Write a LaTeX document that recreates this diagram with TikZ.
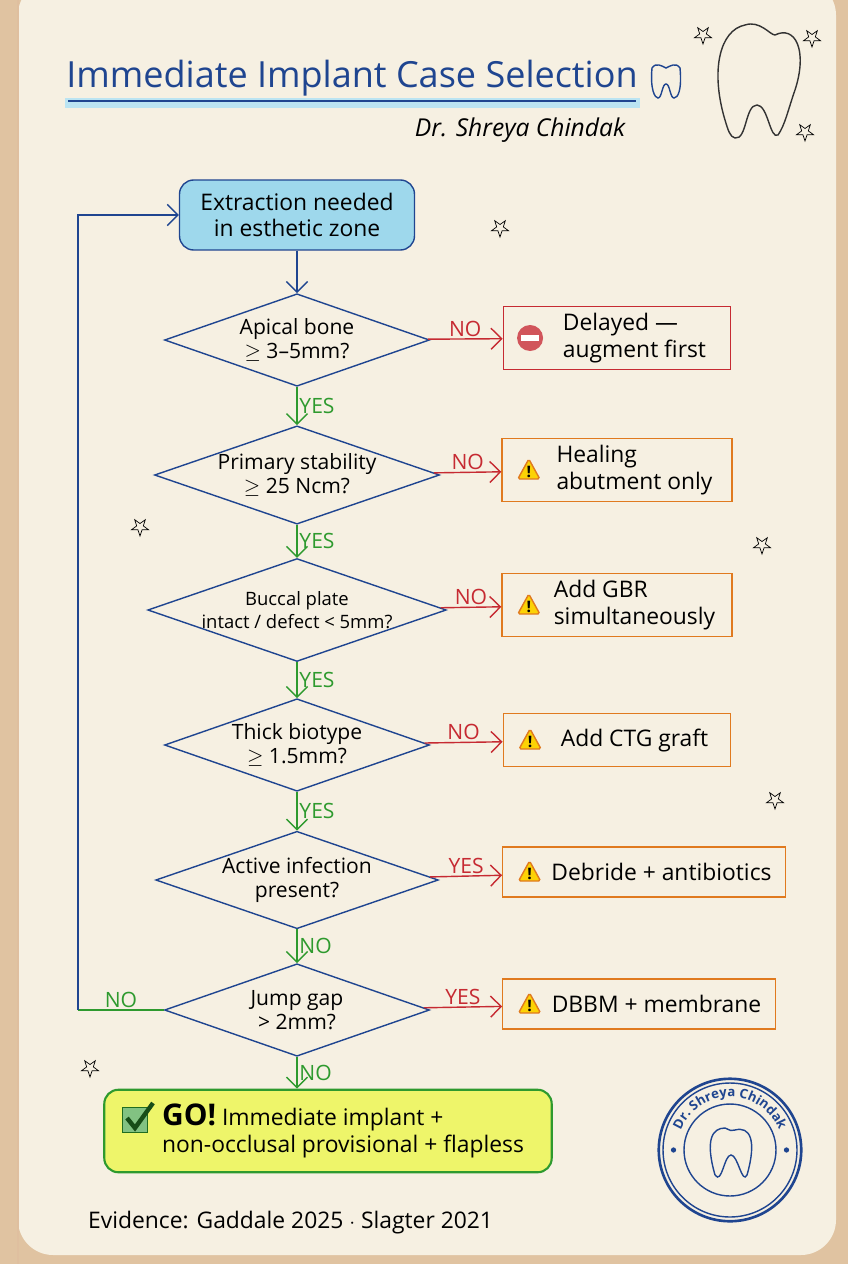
\documentclass[tikz,border=0pt]{standalone}
\usepackage{fontspec}
\setmainfont{Open Sans}
\usetikzlibrary{shapes.geometric,arrows.meta,positioning,calc,decorations.text}
\definecolor{paper}{HTML}{F6F0E2}
\definecolor{ink}{HTML}{1F4590}
\definecolor{sky}{HTML}{9ED8EC}
\definecolor{nored}{HTML}{C62A32}
\definecolor{warn}{HTML}{E07A1F}
\definecolor{yesgreen}{HTML}{2E9A2E}
\definecolor{hilite}{HTML}{EEF56A}
\tikzset{
  dec/.style={diamond, aspect=2.9, draw=ink, thick, fill=paper, minimum width=5.3cm, minimum height=1.85cm, inner sep=0pt, align=center, font=\fontsize{12}{14}\selectfont},
  result/.style={draw, thick, fill=paper, minimum height=1.25cm, align=left, font=\fontsize{13}{15}\selectfont},
  flow/.style={-{Straight Barb[length=6pt]}, thick},
  lbl/.style={font=\fontsize{12}{14}\selectfont, inner sep=1pt},
  warnicon/.pic={\draw[warn, fill=yellow!70!orange, rounded corners=1pt, line width=0.8pt] (-11,9) -- (11,9) -- (0,-11) -- cycle; \node[font=\bfseries\small, inner sep=0pt] at (0,2) {!};},
  star/.pic={\draw[thin] (90:9) -- (126:3.5) -- (162:9) -- (198:3.5) -- (234:9) -- (270:3.5) -- (306:9) -- (342:3.5) -- (18:9) -- (54:3.5) -- cycle;}
}
\begin{document}
\begin{tikzpicture}[x=0.02cm, y=-0.02cm]
  \useasboundingbox (0,0) rectangle (848,1264);
  \fill[brown!40!paper] (0,0) rectangle (848,1264);
  \fill[paper, rounded corners=20pt] (18,-20) rectangle (836,1255);
  \draw[brown!50, thick] (18,0) -- (18,1264);

  % title
  \fill[sky!70] (65,98) rectangle (640,108);
  \draw[ink, thick] (68,101) -- (636,101);
  \node[ink, font=\fontsize{20.5}{24}\selectfont] (title) at (352,78) {Immediate Implant Case Selection};
  \draw[ink, thick] (652,68) .. controls (650,90) and (655,98) .. (658,98) .. controls (662,98) and (662,84) .. (666,84) .. controls (670,84) and (670,98) .. (674,98) .. controls (678,98) and (682,90) .. (680,68) .. controls (676,62) and (670,66) .. (666,68) .. controls (662,66) and (656,62) .. (652,68);
  \node[font=\itshape\fontsize{14}{16}\selectfont] (author) at (520,130) {Dr. Shreya Chindak};

  % big tooth
  \draw[thick, black!80] (725,120) .. controls (710,70) and (720,30) .. (745,25) .. controls (760,20) and (770,35) .. (775,35) .. controls (795,25) and (808,50) .. (795,90) .. controls (788,110) and (785,125) .. (778,135) .. controls (770,140) and (768,105) .. (757,105) .. controls (745,105) and (747,140) .. (735,138) .. controls (730,137) and (728,130) .. (725,120);
  \pic at (703,35) {star}; \pic at (812,38) {star}; \pic at (805,132) {star};
  \pic at (500,228) {star}; \pic at (140,527) {star}; \pic at (762,545) {star};
  \pic at (775,800) {star}; \pic at (90,1068) {star};

  % flow
  \node[draw=ink, thick, fill=sky, rounded corners=8pt, minimum width=4.7cm, minimum height=1.4cm, align=center, font=\fontsize{13}{15}\selectfont] (start) at (297,215) {Extraction needed\\in esthetic zone};
  \node[dec] (bone) at (297,340) {Apical bone\\$\geq$ 3--5mm?};
  \node[dec] (stab) at (297,475) {Primary stability\\$\geq$ 25 Ncm?};
  \node[dec, minimum width=5.6cm, font=\fontsize{10.5}{13}\selectfont] (plate) at (297,610) {Buccal plate\\intact / defect < 5mm?};
  \node[dec] (bio) at (297,745) {Thick biotype\\$\geq$ 1.5mm?};
  \node[dec] (infect) at (297,880) {Active infection\\present?};
  \node[dec] (gap) at (297,1010) {Jump gap\\> 2mm?};

  \node[result, draw=nored, minimum width=4.55cm] (delay) at (617,338) {\hspace{0.7cm}Delayed ---\\\hspace{0.7cm}augment first};
  \node[result, draw=warn, minimum width=4.6cm] (heal) at (617,470) {\hspace{0.7cm}Healing\\\hspace{0.7cm}abutment only};
  \node[result, draw=warn, minimum width=4.6cm] (gbr) at (617,605) {\hspace{0.7cm}Add GBR\\\hspace{0.7cm}simultaneously};
  \node[result, draw=warn, minimum width=4.55cm, minimum height=1.05cm] (ctg) at (617,740) {\hspace{0.7cm}Add CTG graft};
  \node[result, draw=warn, minimum width=5.65cm, minimum height=1.0cm] (debr) at (644,872) {\hspace{0.7cm}Debride + antibiotics};
  \node[result, draw=warn, minimum width=5.45cm, minimum height=1.0cm] (dbbm) at (639,1004) {\hspace{0.7cm}DBBM + membrane};

  \fill[nored!80] ([xshift=0.55cm]delay.west) circle (13);
  \fill[white] ([xshift=0.55cm]delay.west) ++(-9,-3) rectangle ++(18,6);
  \foreach \b in {heal, gbr, ctg, debr, dbbm}
    \pic at ([xshift=0.55cm]\b.west) {warnicon};

  \node[draw=yesgreen, very thick, fill=hilite, rounded corners=8pt, minimum width=8.95cm, minimum height=1.65cm, align=left, font=\fontsize{13}{15}\selectfont] (go) at (328,1131) {\hspace{0.6cm}{\fontsize{17}{18}\selectfont\bfseries GO!} Immediate implant +\\\hspace{0.6cm}non-occlusal provisional + flapless};
  \node[draw=yesgreen!70!black, thick, fill=yesgreen!60, minimum size=0.5cm, inner sep=0pt] (tick) at (135,1120) {};
  \draw[yesgreen!50!black, line width=2.5pt] (127,1118) -- (135,1128) -- (153,1103);

  \draw[flow, ink] (start) -- (bone);
  \foreach \a/\b in {bone/stab, stab/plate, plate/bio, bio/infect}
    \draw[flow, yesgreen] (\a) -- node[lbl, right, text=yesgreen] {YES} (\b);
  \draw[flow, yesgreen] (infect) -- node[lbl, right, text=yesgreen] {NO} (gap);
  \draw[flow, yesgreen] (gap.south) -- node[lbl, right, text=yesgreen] {NO} (gap.south |- go.north);
  \foreach \a/\b in {bone/delay, stab/heal, plate/gbr, bio/ctg}
    \draw[flow, nored] (\a) -- node[lbl, above, text=nored] {NO} (\b);
  \foreach \a/\b in {infect/debr, gap/dbbm}
    \draw[flow, nored] (\a) -- node[lbl, above, text=nored] {YES} (\b);
  \coordinate (loopb) at (78,1010);
  \coordinate (loopt) at (78,215);
  \draw[yesgreen, thick] (gap.west) -- node[lbl, above, text=yesgreen] {NO} (loopb);
  \draw[flow, ink] (loopb) -- (loopt) -- (start.west);

  % stamp
  \node[circle, draw=ink, line width=1.5pt, minimum size=2.85cm] (stamp) at (730,1150) {};
  \begin{scope}[shift={(stamp.center)}, x=1cm, y=1cm]
    \draw[ink, thick] (0,0) circle (1.34) circle (0.92);
    \fill[ink] (-1.13,0) circle (1.5pt) (1.13,0) circle (1.5pt);
    \path[decorate, decoration={text along path, text={|\color{ink}\bfseries\fontsize{7.5}{8}\selectfont|Dr. Shreya Chindak}, text align=center}] (170:1.06) arc[start angle=170, end angle=10, radius=1.06];
  \end{scope}
  \draw[ink, thick] (715,1175) .. controls (705,1140) and (712,1128) .. (725,1128) .. controls (730,1130) and (732,1132) .. (735,1130) .. controls (750,1126) and (757,1140) .. (747,1175) .. controls (742,1185) and (738,1155) .. (731,1155) .. controls (724,1155) and (722,1185) .. (715,1175);

  \node[right, font=\fontsize{13}{15}\selectfont] (evid) at (82,1223) {Evidence: Gaddale 2025 $\cdot$ Slagter 2021};
\end{tikzpicture}
\end{document}
